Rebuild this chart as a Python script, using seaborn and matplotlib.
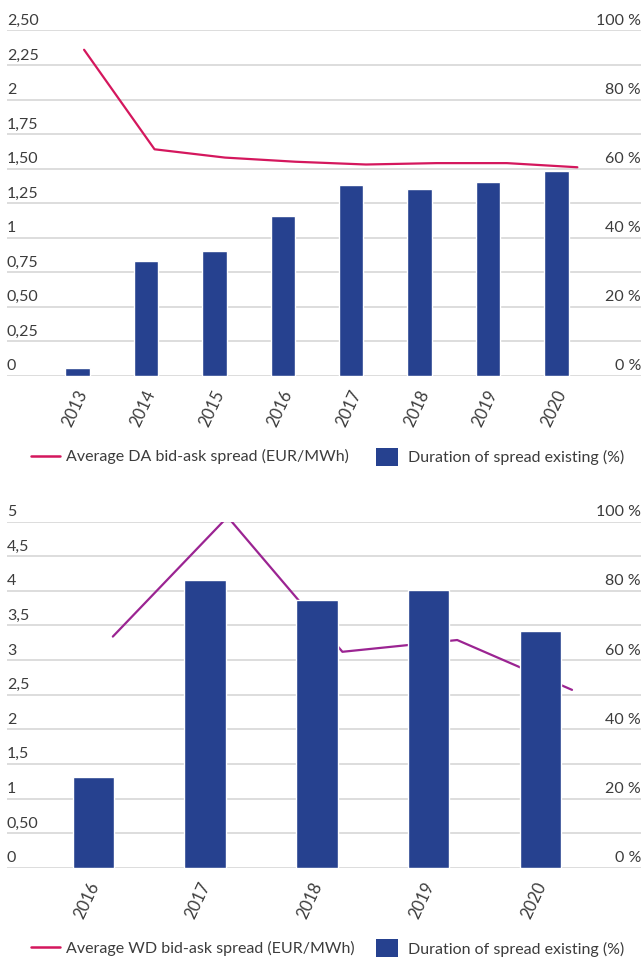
import matplotlib
matplotlib.use("Agg")
import matplotlib.pyplot as plt
import matplotlib.transforms as mtransforms
from matplotlib.lines import Line2D
from matplotlib.patches import Patch
import seaborn as sns

# --- data: day-ahead (top panel)
da_years = ["2013", "2014", "2015", "2016", "2017", "2018", "2019", "2020"]
da_spread = [2.36, 1.64, 1.58, 1.55, 1.53, 1.54, 1.54, 1.51]      # EUR/MWh
da_duration = [2.2, 33.3, 36.2, 46.3, 55.3, 54.2, 56.2, 59.4]     # %
da_left_ticks = [0, 0.25, 0.5, 0.75, 1, 1.25, 1.5, 1.75, 2, 2.25, 2.5]
da_left_labels = ["0", "0,25", "0,50", "0,75", "1", "1,25", "1,50", "1,75", "2", "2,25", "2,50"]

# --- data: within-day (bottom panel)
wd_years = ["2016", "2017", "2018", "2019", "2020"]
wd_spread = [3.34, 5.07, 3.12, 3.29, 2.57]
wd_duration = [26.2, 83.1, 77.4, 80.3, 68.4]
wd_left_ticks = [0, 0.5, 1, 1.5, 2, 2.5, 3, 3.5, 4, 4.5, 5]
wd_left_labels = ["0", "0,50", "1", "1,5", "2", "2,5", "3", "3,5", "4", "4,5", "5"]

pct_ticks = [0, 20, 40, 60, 80, 100]
pct_labels = ["0 %", "20 %", "40 %", "60 %", "80 %", "100 %"]

BAR_BLUE = "#26418f"
DA_LINE = "#d4175d"
WD_LINE = "#9b2492"
LEGEND_LINE = "#d4175d"
GRID = "#d3d3d3"
TXT = "#3c3c3c"
FS = 11.5

sns.set_theme(style="white")
plt.rcParams["font.family"] = ["Lato", "DejaVu Sans"]


def draw_panel(fig, rect, years, spread, duration, left_ticks, left_labels,
               line_color, bar_width, bar_xlim, line_xlim, lab_shift):
    ax_line = fig.add_axes(rect)
    ax_bar = fig.add_axes(rect, frameon=False)

    # line + gridlines on the left (EUR/MWh) scale
    sns.lineplot(x=years, y=spread, ax=ax_line, color=line_color,
                 linewidth=1.6, legend=False, sort=False)
    ax_line.set_xlim(*line_xlim)
    ax_line.set_ylim(left_ticks[0], left_ticks[-1])
    ax_line.set_yticks(left_ticks)
    ax_line.grid(axis="y", color=GRID, linewidth=1.1)
    ax_line.grid(axis="x", visible=False)
    ax_line.tick_params(left=False, bottom=False, labelleft=False, labelbottom=False)
    for s in ax_line.spines.values():
        s.set_visible(False)
    ax_line.set_xlabel("")
    ax_line.set_ylabel("")

    up = mtransforms.ScaledTranslation(0, 4 / 72, fig.dpi_scale_trans)
    tr_left = mtransforms.blended_transform_factory(ax_line.transAxes, ax_line.transData) + up
    for v, lab in zip(left_ticks, left_labels):
        ax_line.text(0, v, lab, transform=tr_left, ha="left", va="baseline",
                     fontsize=FS, color=TXT)

    # bars on the right (%) scale, drawn above the line
    sns.barplot(x=years, y=duration, ax=ax_bar, color=BAR_BLUE,
                saturation=1, width=bar_width)
    ax_bar.set_xlim(*bar_xlim)
    ax_bar.set_ylim(0, 100)
    ax_bar.set_yticks([])
    ax_bar.set_xlabel("")
    ax_bar.set_ylabel("")
    ax_bar.tick_params(axis="x", length=0, pad=8.5, labelsize=FS + 0.5, labelcolor=TXT)
    ax_bar.set_xticks(range(len(years)), years, rotation=65)
    shift = mtransforms.ScaledTranslation(lab_shift / 72, 0, fig.dpi_scale_trans)
    for lbl in ax_bar.get_xticklabels():
        lbl.set_transform(lbl.get_transform() + shift)

    tr_right = mtransforms.blended_transform_factory(ax_bar.transAxes, ax_bar.transData) + up
    for v, lab in zip(pct_ticks, pct_labels):
        ax_bar.text(1, v, lab, transform=tr_right, ha="right", va="baseline",
                    fontsize=FS, color=TXT)
    return ax_line, ax_bar


def add_legend(fig, y, line_label):
    line_h = Line2D([], [], color=LEGEND_LINE, linewidth=1.8)
    bar_h = Patch(facecolor=BAR_BLUE, edgecolor="none")
    fig.legend([line_h], [line_label], loc="center left",
               bbox_to_anchor=(30.8 / 641, y), frameon=False, fontsize=FS,
               handlelength=1.8, handletextpad=0.38, borderpad=0,
               borderaxespad=0, labelcolor=TXT)
    fig.legend([bar_h], ["Duration of spread existing (%)"], loc="center left",
               bbox_to_anchor=(376 / 641, y), frameon=False, fontsize=FS,
               handlelength=1.35, handleheight=1.37, handletextpad=0.64,
               borderpad=0, borderaxespad=0, labelcolor=TXT)


fig = plt.figure(figsize=(6.41, 9.59), dpi=100)

draw_panel(fig, [0.0109, 0.6079, 0.9891, 0.3604], da_years, da_spread, da_duration,
           da_left_ticks, da_left_labels, DA_LINE, 0.358,
           (-1.03, 8.235), (-1.094, 7.903), -2)
add_legend(fig, 1 - 456.7 / 959, "Average DA bid-ask spread (EUR/MWh)")

draw_panel(fig, [0.0109, 0.0952, 0.9891, 0.3608], wd_years, wd_spread, wd_duration,
           wd_left_ticks, wd_left_labels, WD_LINE, 0.369,
           (-0.772, 4.899), (-0.922, 4.601), -5)
add_legend(fig, 1 - 948.3 / 959, "Average WD bid-ask spread (EUR/MWh)")

fig.savefig("out.png", dpi=100)
